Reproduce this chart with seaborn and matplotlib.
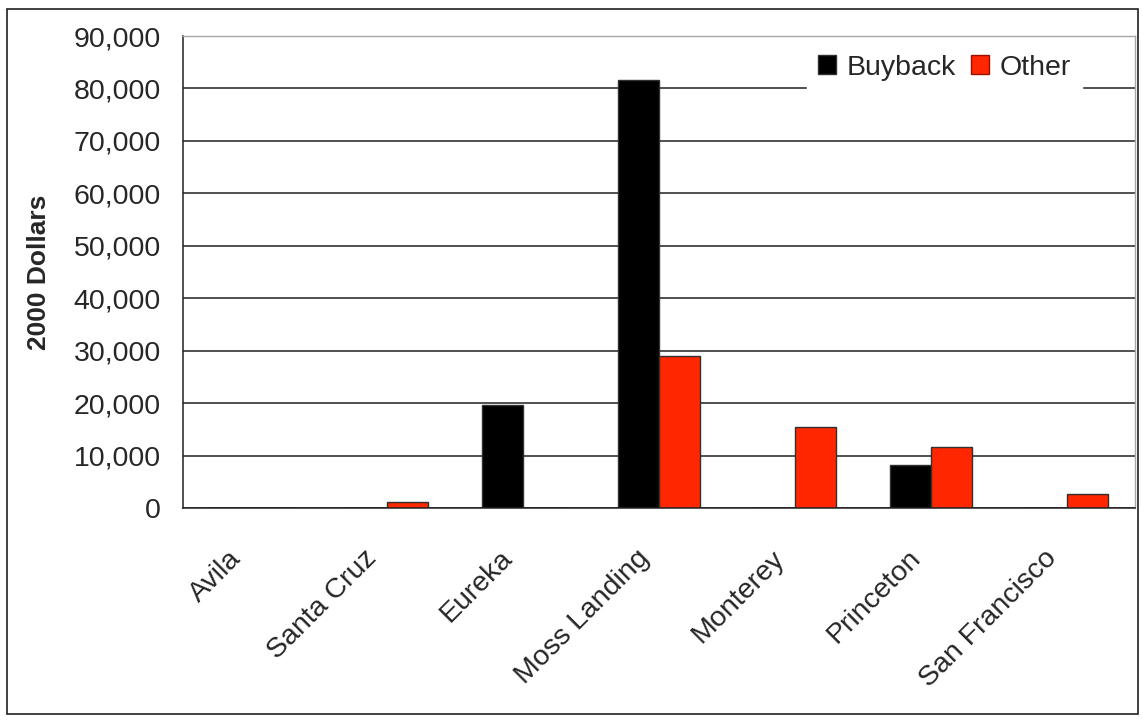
import numpy as np
import pandas as pd
import matplotlib
matplotlib.use("Agg")
import matplotlib.pyplot as plt
import matplotlib.ticker as mticker
import matplotlib.transforms as mtrans
from matplotlib.patches import Rectangle
import seaborn as sns

# Data (2000 dollars)
ports = ["Avila", "Santa Cruz", "Eureka", "Moss Landing", "Monterey", "Princeton", "San Francisco"]
buyback = [0, 0, 19700, 81600, 0, 8100, 0]
other = [0, 1200, 0, 28900, 15400, 11600, 2700]
series = ["Buyback", "Other"]
colors = ["#000000", "#FF2600"]

df = pd.DataFrame({
    "port": ports * 2,
    "value": buyback + other,
    "type": [series[0]] * len(ports) + [series[1]] * len(ports),
})

sns.set_style("white")
plt.rcParams["font.family"] = ["Liberation Sans", "DejaVu Sans"]

fig = plt.figure(figsize=(11.43, 7.21), dpi=100)
ax = fig.add_axes([0.160, 0.2955, 0.833, 0.6545])

sns.barplot(data=df, x="port", y="value", hue="type", palette=colors, saturation=1,
            width=0.6, edgecolor="#303030", linewidth=1, ax=ax)

ax.set_ylim(0, 90000)
ax.set_xlim(-0.5, len(ports) - 0.5)
ax.yaxis.set_major_locator(mticker.MultipleLocator(10000))
ax.yaxis.set_major_formatter(mticker.FuncFormatter(lambda v, p: f"{int(v):,}"))
ax.yaxis.grid(True, color="#202020", linewidth=1.1)
ax.set_axisbelow(True)

# category boundary ticks like the original
ax.set_xticks(np.arange(len(ports)))
ax.set_xticks(np.arange(len(ports) + 1) - 0.5, minor=True)
ax.tick_params(axis="x", which="major", length=0, pad=37)
ax.tick_params(axis="x", which="minor", length=10, width=1, color="#303030", direction="out")
ax.tick_params(axis="y", length=10, width=1, color="#303030", direction="out", labelsize=20.5, pad=6)
ax.set_xticklabels(ports, rotation=45, ha="right", va="baseline",
                   rotation_mode="anchor", fontsize=20.5)
shift = mtrans.ScaledTranslation(-9 / 100, 0, fig.dpi_scale_trans)
for lab in ax.get_xticklabels():
    lab.set_transform(lab.get_transform() + shift)

for name in ["left", "bottom"]:
    ax.spines[name].set_color("#202020")
    ax.spines[name].set_linewidth(1.1)
for name in ["top", "right"]:
    ax.spines[name].set_color("#A8A8A8")
    ax.spines[name].set_linewidth(1)

ax.set_xlabel("")
ax.set_ylabel("2000 Dollars", fontsize=19, fontweight="bold", va="center")
ax.yaxis.set_label_coords(-0.151, 0.5)

leg = ax.legend(loc="center right", ncol=2, fontsize=20.5, frameon=True,
                bbox_to_anchor=(0.944, 0.933), borderaxespad=0,
                handlelength=0.63, handleheight=0.63,
                handletextpad=0.39, columnspacing=0.5, borderpad=0.38, fancybox=False)
leg.get_frame().set_edgecolor("white")
leg.get_frame().set_facecolor("white")
leg.get_frame().set_alpha(1)
leg.legend_handles[1].set_edgecolor("#9A1000")

fig.patches.append(Rectangle((0.006, 0.01), 0.99, 0.978, transform=fig.transFigure,
                             fill=False, edgecolor="#202020", linewidth=1.2))

fig.savefig("out.png", dpi=100, facecolor="white")
